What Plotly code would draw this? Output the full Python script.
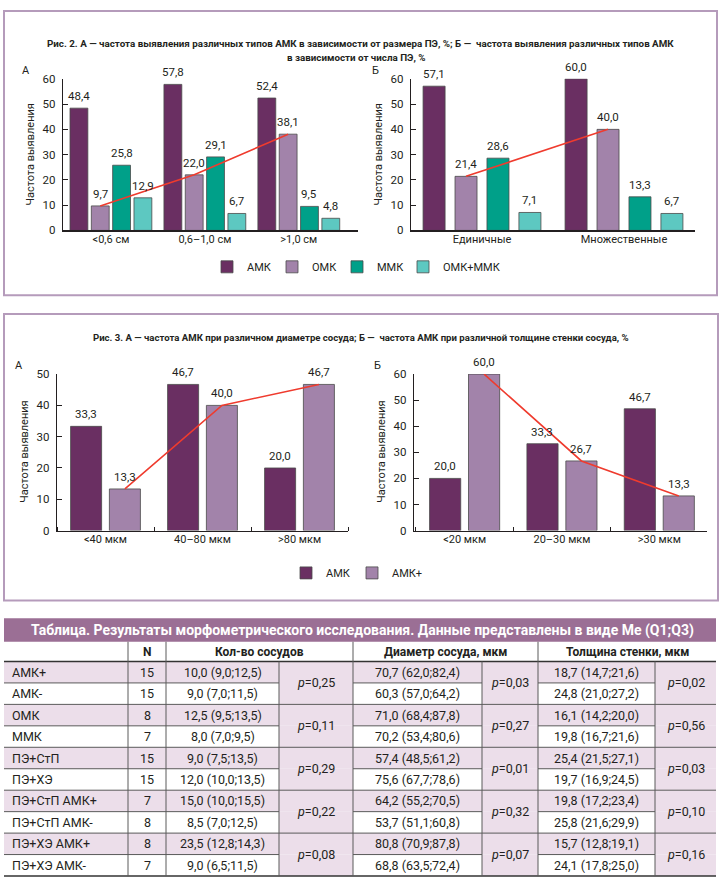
import plotly.graph_objects as go

W, H = 720, 884

# ---------------- DATA ----------------
# Fig. 2
size_cats = ["<0,6 см", "0,6–1,0 см", ">1,0 см"]
count_cats = ["Единичные", "Множественные"]
fig2_names = ["АМК", "ОМК", "ММК", "ОМК+ММК"]
fig2a_amk = [48.4, 57.8, 52.4]
fig2a_omk = [9.7, 22.0, 38.1]
fig2a_mmk = [25.8, 29.1, 9.5]
fig2a_omk_mmk = [12.9, 6.7, 4.8]
fig2b_amk = [57.1, 60.0]
fig2b_omk = [21.4, 40.0]
fig2b_mmk = [28.6, 13.3]
fig2b_omk_mmk = [7.1, 6.7]

# Fig. 3
diam_cats = ["<40 мкм", "40–80 мкм", ">80 мкм"]
wall_cats = ["<20 мкм", "20–30 мкм", ">30 мкм"]
fig3_names = ["АМК", "АМК+"]
fig3a_amk = [33.3, 46.7, 20.0]
fig3a_amk_plus = [13.3, 40.0, 46.7]
fig3b_amk = [20.0, 33.3, 46.7]
fig3b_amk_plus = [60.0, 26.7, 13.3]

y_title = "Частота выявления"
fig2_title_1 = "Рис. 2. А — частота выявления различных типов АМК в зависимости от размера ПЭ, %; Б —  частота выявления различных типов АМК"
fig2_title_2 = "в зависимости от числа ПЭ, %"
fig3_title = "Рис. 3. А — частота АМК при различном диаметре сосуда; Б —  частота АМК при различной толщине стенки сосуда, %"

# Table
table_title = "Таблица. Результаты морфометрического исследования. Данные представлены в виде Me (Q1;Q3)"
table_headers = ["N", "Кол-во сосудов", "Диаметр сосуда, мкм", "Толщина стенки, мкм"]
row_labels = ["АМК+", "АМК-", "ОМК", "ММК", "ПЭ+СтП", "ПЭ+ХЭ",
              "ПЭ+СтП АМК+", "ПЭ+СтП АМК-", "ПЭ+ХЭ АМК+", "ПЭ+ХЭ АМК-"]
row_n = [15, 15, 8, 7, 15, 15, 7, 8, 8, 7]
vessels = ["10,0 (9,0;12,5)", "9,0 (7,0;11,5)", "12,5 (9,5;13,5)", "8,0 (7,0;9,5)",
           "9,0 (7,5;13,5)", "12,0 (10,0;13,5)", "15,0 (10,0;15,5)", "8,5 (7,0;12,5)",
           "23,5 (12,8;14,3)", "9,0 (6,5;11,5)"]
diameter = ["70,7 (62,0;82,4)", "60,3 (57,0;64,2)", "71,0 (68,4;87,8)", "70,2 (53,4;80,6)",
            "57,4 (48,5;61,2)", "75,6 (67,7;78,6)", "64,2 (55,2;70,5)", "53,7 (51,1;60,8)",
            "80,8 (70,9;87,8)", "68,8 (63,5;72,4)"]
wall = ["18,7 (14,7;21,6)", "24,8 (21,0;27,2)", "16,1 (14,2;20,0)", "19,8 (16,7;21,6)",
        "25,4 (21,5;27,1)", "19,7 (16,9;24,5)", "19,8 (17,2;23,4)", "25,8 (21,6;29,9)",
        "15,7 (12,8;19,1)", "24,1 (17,8;25,0)"]
p_vessels = ["0,25", "0,11", "0,29", "0,22", "0,08"]
p_diameter = ["0,03", "0,27", "0,01", "0,32", "0,07"]
p_wall = ["0,02", "0,56", "0,03", "0,10", "0,16"]

# ---------------- STYLE ----------------
FN = "Roboto, Liberation Sans, sans-serif"
FT = "Roboto, Liberation Sans, sans-serif"
TXT = "#231f20"
C_AMK = "#6a2f62"
C_OMK = "#a283aa"
C_MMK = "#00a089"
C_OM = "#5dc8c1"
RED = "#ef3b2e"
FRAME = "#b59bbb"
HEAD = "#9b6f95"
LIGHT = "#ecdeea"
GRID = "#5a5a5a"


def px(x):
    return x / W


def py(y):
    return 1 - y / H


fig = go.Figure()
annotations = []
shapes = []


def add_chart(ax, cats, series, names, colors, bar_w, slot, legends, line_idx):
    xa = "x" if ax == 1 else f"x{ax}"
    ya = "y" if ax == 1 else f"y{ax}"
    n = len(series)
    xs = list(range(len(cats)))
    for k, (vals, name, col) in enumerate(zip(series, names, colors)):
        c = (k - (n - 1) / 2) * slot
        lg = legends[k] if legends else None
        fig.add_trace(go.Bar(
            x=xs, y=vals, width=bar_w, offset=c - bar_w / 2,
            marker=dict(color=col, line=dict(color="#4a4a4a", width=0.8)),
            name=name, legend=lg if lg else "legend", showlegend=lg is not None,
            xaxis=xa, yaxis=ya, hoverinfo="skip", cliponaxis=False))
        for i, v in enumerate(vals):
            annotations.append(dict(
                x=i + c, y=v, xref=xa, yref=ya, text=f"{v:.1f}".replace(".", ","),
                showarrow=False, yanchor="bottom", yshift=3,
                font=dict(family=FN, size=11.5, color=TXT)))
    c = (line_idx - (n - 1) / 2) * slot
    fig.add_trace(go.Scatter(
        x=[i + c for i in xs], y=series[line_idx], mode="lines",
        line=dict(color=RED, width=1.6), showlegend=False,
        xaxis=xa, yaxis=ya, hoverinfo="skip", cliponaxis=False))


c2 = [C_AMK, C_OMK, C_MMK, C_OM]
add_chart(1, size_cats, [fig2a_amk, fig2a_omk, fig2a_mmk, fig2a_omk_mmk],
          fig2_names, c2, 0.19, 0.227, ["legend", "legend2", "legend3", "legend4"], 1)
add_chart(2, count_cats, [fig2b_amk, fig2b_omk, fig2b_mmk, fig2b_omk_mmk],
          fig2_names, c2, 0.155, 0.225, None, 1)
c3 = [C_AMK, C_OMK]
add_chart(3, diam_cats, [fig3a_amk, fig3a_amk_plus], fig3_names, c3, 0.32, 0.40,
          ["legend5", "legend6"], 1)
add_chart(4, wall_cats, [fig3b_amk, fig3b_amk_plus], fig3_names, c3, 0.32, 0.40, None, 1)


def xcfg(x0, x1, rng, cats, anchor, minor):
    d = dict(domain=[px(x0), px(x1)], range=rng, tickmode="array",
             tickvals=list(range(len(cats))), ticktext=cats, showline=True,
             linecolor=TXT, linewidth=1.3, ticks="", showgrid=False, zeroline=False,
             anchor=anchor, fixedrange=True, ticklabelstandoff=-2,
             tickfont=dict(family=FN, size=11, color=TXT))
    if minor:
        d["minor"] = dict(tick0=0.5, dtick=1, ticks="inside", ticklen=4,
                          tickcolor=TXT, tickwidth=1, showgrid=False)
    return d


def ycfg(y0, y1, rng, anchor):
    return dict(domain=[py(y1), py(y0)], range=rng, tickmode="linear", tick0=0, dtick=10,
                showline=True, linecolor=TXT, linewidth=1.3, ticks="inside", ticklen=5,
                tickcolor=TXT, showgrid=False, zeroline=False, anchor=anchor,
                ticklabelstandoff=4, fixedrange=True,
                tickfont=dict(family=FN, size=11.5, color=TXT))


fig.update_layout(
    xaxis=xcfg(63, 358, [-0.51, 2.63], size_cats, "y", False),
    yaxis=ycfg(73, 227, [0, 60], "x"),
    xaxis2=xcfg(411, 695, [-0.5, 1.5], count_cats, "y2", False),
    yaxis2=ycfg(73, 227, [0, 60], "x2"),
    xaxis3=xcfg(57, 348, [-0.5, 2.5], diam_cats, "y3", True),
    yaxis3=ycfg(373, 532, [0, 50], "x3"),
    xaxis4=xcfg(414, 707, [-0.52, 2.49], wall_cats, "y4", True),
    yaxis4=ycfg(373, 532, [0, 60], "x4"),
)

# y titles and panel letters
for (xc, yc) in [(31, 150), (379, 150), (25, 452), (382, 452)]:
    annotations.append(dict(x=px(xc), y=py(yc), xref="paper", yref="paper", text=y_title,
                            textangle=-90, showarrow=False, xanchor="center", yanchor="middle",
                            font=dict(family=FN, size=11, color=TXT)))
for (t, xc, yc) in [("А", 26, 65), ("Б", 375, 65), ("А", 19, 364), ("Б", 377, 364)]:
    annotations.append(dict(x=px(xc), y=py(yc), xref="paper", yref="paper", text=t,
                            showarrow=False, xanchor="center", yanchor="middle",
                            font=dict(family=FN, size=11, color=TXT)))

# titles
for (t, xc, yc, s) in [(fig2_title_1, 360, 37, 9.8), (fig2_title_2, 356, 51, 9.8),
                       (fig3_title, 361, 336, 9.6)]:
    annotations.append(dict(x=px(xc), y=py(yc), xref="paper", yref="paper",
                            text=f"<b>{t}</b>", showarrow=False, xanchor="center",
                            yanchor="middle", font=dict(family=FN, size=s, color=TXT)))

# frames
shapes.append(dict(type="rect", xref="paper", yref="paper", x0=px(4), x1=px(717),
                   y0=py(293), y1=py(4), line=dict(color=FRAME, width=2)))
shapes.append(dict(type="rect", xref="paper", yref="paper", x0=px(4), x1=px(718),
                   y0=py(603), y1=py(312), line=dict(color=FRAME, width=2)))

# ---------------- TABLE ----------------
cx = [4, 128, 166, 279, 353, 482, 538, 655, 716]
t_top, h_top, d_top, rh = 621, 645, 665, 21.8
nrows = len(row_labels)
t_bot = d_top + nrows * rh


def rect(x0, x1, y0, y1, fill):
    shapes.append(dict(type="rect", xref="paper", yref="paper", x0=px(x0), x1=px(x1),
                       y0=py(y1), y1=py(y0), fillcolor=fill, line=dict(width=0), layer="below"))


def hline(x0, x1, y, col=GRID, w=1):
    shapes.append(dict(type="line", xref="paper", yref="paper", x0=px(x0), x1=px(x1),
                       y0=py(y), y1=py(y), line=dict(color=col, width=w)))


def vline(x, y0, y1, col=GRID, w=1):
    shapes.append(dict(type="line", xref="paper", yref="paper", x0=px(x), x1=px(x),
                       y0=py(y0), y1=py(y1), line=dict(color=col, width=w)))


def txt(t, x, y, anchor="center", size=12.5, fam=FN, col=TXT):
    annotations.append(dict(x=px(x), y=py(y), xref="paper", yref="paper", text=t,
                            showarrow=False, xanchor=anchor, yanchor="middle",
                            font=dict(family=fam, size=size, color=col)))


rect(cx[0], cx[-1], t_top, h_top, HEAD)
txt(f"<b>{table_title}</b>", 362, (t_top + h_top) / 2 + 0.5, size=14, fam=FT, col="white")

p_cols = [(cx[3], cx[4]), (cx[5], cx[6]), (cx[7], cx[8])]
for r in range(nrows):
    y0 = d_top + r * rh
    if r % 2 == 0:
        rect(cx[0], cx[-1], y0, y0 + rh, LIGHT)
    else:
        for (a, b) in p_cols:
            rect(a, b, y0, y0 + rh, LIGHT)

# header row texts
hy = (h_top + d_top) / 2
txt(f"<b>{table_headers[0]}</b>", (cx[1] + cx[2]) / 2, hy, size=12, fam=FT)
txt(f"<b>{table_headers[1]}</b>", (cx[2] + cx[4]) / 2, hy, size=12, fam=FT)
txt(f"<b>{table_headers[2]}</b>", (cx[4] + cx[6]) / 2, hy, size=12, fam=FT)
txt(f"<b>{table_headers[3]}</b>", (cx[6] + cx[8]) / 2, hy, size=12, fam=FT)

# lines
hline(cx[0], cx[-1], d_top, "#333333", 1.5)
for r in range(1, nrows):
    y = d_top + r * rh
    if r % 2 == 0:
        hline(cx[0], cx[-1], y)
    else:
        hline(cx[0], cx[3], y)
        hline(cx[4], cx[5], y)
        hline(cx[6], cx[7], y)
hline(cx[0], cx[-1], t_bot, "#333333", 1.5)
for x in [cx[1], cx[2], cx[4], cx[6]]:
    vline(x, h_top, t_bot)
for x in [cx[3], cx[5], cx[7]]:
    vline(x, d_top, t_bot)

for r in range(nrows):
    yc = d_top + r * rh + rh / 2
    txt(row_labels[r], cx[0] + 6, yc, anchor="left")
    txt(str(row_n[r]), (cx[1] + cx[2]) / 2, yc)
    txt(vessels[r], (cx[2] + cx[3]) / 2, yc)
    txt(diameter[r], (cx[4] + cx[5]) / 2, yc)
    txt(wall[r], (cx[6] + cx[7]) / 2, yc)
for k in range(len(p_vessels)):
    yc = d_top + (2 * k + 1) * rh
    txt(f"<i>p</i>={p_vessels[k]}", (cx[3] + cx[4]) / 2, yc)
    txt(f"<i>p</i>={p_diameter[k]}", (cx[5] + cx[6]) / 2, yc)
    txt(f"<i>p</i>={p_wall[k]}", (cx[7] + cx[8]) / 2, yc)


def leg(sq_left, yc):
    return dict(orientation="h", x=px(sq_left - 19), y=py(yc), xanchor="left",
                yanchor="middle", bgcolor="rgba(0,0,0,0)",
                font=dict(family=FN, size=11, color=TXT))


fig.update_layout(
    width=W, height=H, margin=dict(l=0, r=0, t=0, b=0),
    paper_bgcolor="white", plot_bgcolor="white", barmode="overlay",
    annotations=annotations, shapes=shapes,
    legend=leg(226, 264), legend2=leg(291, 264), legend3=leg(356, 264),
    legend4=leg(422, 264), legend5=leg(305, 575), legend6=leg(371, 575),
)

fig.write_html("out.html", config={"displayModeBar": False, "staticPlot": True},
               post_script="document.body.style.margin='0px';document.body.style.padding='0px';")
